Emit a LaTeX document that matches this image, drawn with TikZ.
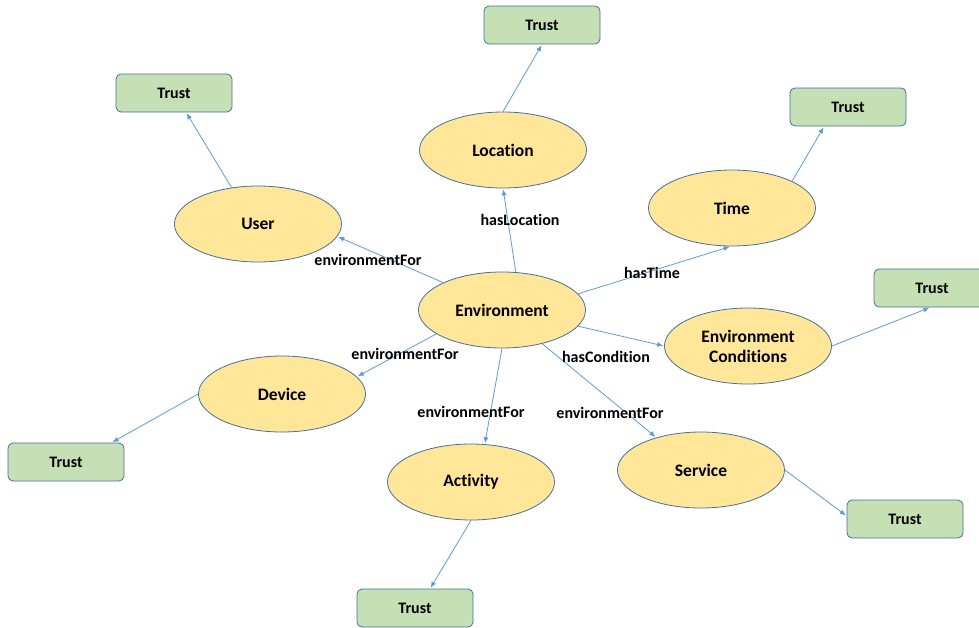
\documentclass[tikz,border=0pt]{standalone}
\usepackage{fontspec}
\setmainfont[Ligatures=NoCommon]{Carlito}
\usetikzlibrary{arrows.meta,shapes.geometric}
\definecolor{ovalfill}{HTML}{FFE699}
\definecolor{boxfill}{HTML}{C5E0B4}
\definecolor{rimblue}{HTML}{41719C}
\definecolor{linkblue}{HTML}{5B9BD5}
\tikzset{
  concept/.style={ellipse, draw=rimblue, line width=0.8pt, fill=ovalfill, minimum width=167pt, minimum height=76pt, inner sep=0pt, align=center, font=\fontsize{17.5}{20}\selectfont\bfseries},
  trustbox/.style={rectangle, rounded corners=5pt, draw=rimblue, line width=0.8pt, fill=boxfill, minimum width=116pt, minimum height=38pt, inner sep=0pt, font=\fontsize{16}{18}\selectfont\bfseries},
  relation/.style={font=\fontsize{16}{18}\selectfont\bfseries, inner sep=1pt},
  link/.style={draw=linkblue, line width=0.8pt, -{Latex[length=6pt,width=5pt]}, shorten >=1pt}
}

\begin{document}
\begin{tikzpicture}[x=1pt, y=-1pt]
			%%%%% FRAME %%%%%
			\useasboundingbox (0, 0) rectangle (979, 627);
			\clip (0, 0) rectangle (979, 627);
			
			%%%%% CONCEPTS %%%%%
			\node[concept] (env) at (502, 310) {Environment};
			\node[concept] (location) at (503, 150) {Location};
			\node[concept] (user) at (258, 224) {User};
			\node[concept] (time) at (732, 208) {Time};
			\node[concept] (cond) at (748, 346) {Environment\\Conditions};
			\node[concept] (device) at (282, 394) {Device};
			\node[concept] (activity) at (471, 482) {Activity};
			\node[concept] (service) at (701, 470) {Service};
			
			%%%%% TRUST BOXES %%%%%
			\node[trustbox] (trustloc) at (542, 25) {Trust};
			\node[trustbox] (trustuser) at (174, 93) {Trust};
			\node[trustbox] (trusttime) at (848, 107) {Trust};
			\node[trustbox] (trustcond) at (932, 288) {Trust};
			\node[trustbox] (trustdev) at (66, 462) {Trust};
			\node[trustbox] (trustact) at (415, 608) {Trust};
			\node[trustbox] (trustserv) at (905, 519) {Trust};
			
			%%%%% RELATIONS %%%%%
			\draw[link] (env.70) -- (location.south);
			\draw[link] (env.155) -- (user.351);
			\draw[link] (env.12) -- (time.268);
			\draw[link] (env.-12) -- (cond.west);
			\draw[link] (env.200) -- (device.13);
			\draw[link] (env.270) -- (activity.70);
			\draw[link] (env.320) -- (service.144);
			
			\node[relation] (lblloc) at (520, 220) {hasLocation};
			\node[relation] (lbluser) at (368, 260) {environmentFor};
			\node[relation] (lbltime) at (652, 273) {hasTime};
			\node[relation] (lblcond) at (606, 357) {hasCondition};
			\node[relation] (lbldev) at (405, 354) {environmentFor};
			\node[relation] (lblact) at (471, 412) {environmentFor};
			\node[relation] (lblserv) at (610, 413) {environmentFor};
			
			%%%%% TRUST LINKS %%%%%
			\draw[link] (location.north) -- (trustloc.south);
			\draw[link] (user.126) -- (trustuser.302);
			\draw[link] (time.24) -- (trusttime.219);
			\draw[link] (cond.east) -- (trustcond.265);
			\draw[link] (device.west) -- (trustdev.23);
			\draw[link] (activity.south) -- (trustact.52);
			\draw[link] (service.east) -- (trustserv.177);
			
			%%%%% END %%%%%
\end{tikzpicture}
\end{document}
